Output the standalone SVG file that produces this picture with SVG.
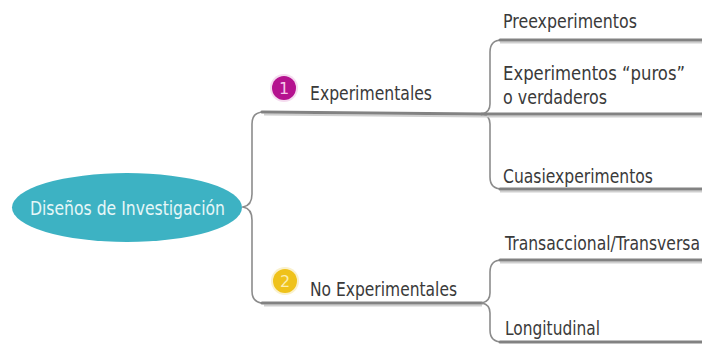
<svg xmlns="http://www.w3.org/2000/svg" width="702" height="345" viewBox="0 0 702 345">
<defs>
<style>
.t{font-family:"DejaVu Sans","Liberation Sans",sans-serif;font-size:20px;fill:#3a3a3a;}
.br{fill:none;stroke:#8c8c8c;stroke-width:1.6;stroke-linecap:round;stroke-linejoin:round;}
.hl{fill:none;stroke:#828282;stroke-width:3;stroke-linecap:round;}
.sh{fill:none;stroke:#cfcfcf;stroke-width:2;}
.num{font-family:"DejaVu Sans","Liberation Sans",sans-serif;font-size:16px;text-anchor:middle;}
</style>
</defs>
<rect width="702" height="345" fill="#ffffff"/>
<g id="connectors">
  <path class="br" d="M243,207 C249,206 252,202 252,194 L252,124 Q252,112 264,112"/>
  <path class="br" d="M243,207 C249,208 252,212 252,220 L252,291 Q252,303 264,303"/>
  <path class="sh" d="M264,114.5 L482,116.5"/>
  <path class="hl" d="M262,112 L482,114"/>
  <path class="sh" d="M264,305.5 L482,305.5"/>
  <path class="hl" d="M262,303 L482,303"/>
  <path class="br" d="M482,114 C487,113 490,110 490,104 L490,52 Q490,40 502,40"/>
  <path class="br" d="M482,114 C487,115 490,118 490,124 L490,177 Q490,189 502,189"/>
  <path class="sh" d="M500,42.5 L702,42.5"/>
  <path class="hl" d="M500,40 L702,40"/>
  <path class="sh" d="M482,116.5 L702,116.5"/>
  <path class="hl" d="M482,114 L702,114"/>
  <path class="sh" d="M500,191.5 L702,191.5"/>
  <path class="hl" d="M500,189 L702,189"/>
  <path class="br" d="M482,303 C487,302 490,299 490,293 L490,272 Q490,260 502,260"/>
  <path class="br" d="M482,303 C487,304 490,307 490,313 L490,330 Q490,342 502,342"/>
  <path class="sh" d="M500,262.5 L702,262.5"/>
  <path class="hl" d="M500,260 L702,260"/>
  <path class="hl" d="M500,342 L702,342"/>
</g>
<g id="root">
  <ellipse cx="127" cy="207.5" rx="115" ry="34.5" fill="#3db2c3"/>
  <text x="30" y="215" textLength="195" lengthAdjust="spacingAndGlyphs" style="font-family:'DejaVu Sans','Liberation Sans',sans-serif;font-size:20px;fill:#e6f7f8;">Diseños de Investigación</text>
</g>
<g id="n1">
  <circle cx="284" cy="88" r="14" fill="#f5dcef"/>
  <circle cx="284" cy="88" r="12" fill="#b5128f"/>
  <text class="num" x="284" y="94" fill="#f6c8ea">1</text>
  <text class="t" x="310" y="100" textLength="122" lengthAdjust="spacingAndGlyphs">Experimentales</text>
</g>
<g id="n2">
  <circle cx="285" cy="281" r="14" fill="#faf1cc"/>
  <circle cx="285" cy="281" r="12" fill="#efc21a"/>
  <text class="num" x="285" y="287" fill="#fbeeb0">2</text>
  <text class="t" x="310" y="296" textLength="147" lengthAdjust="spacingAndGlyphs">No Experimentales</text>
</g>
<g id="n11">
  <text class="t" x="503" y="28" textLength="134" lengthAdjust="spacingAndGlyphs">Preexperimentos</text>
</g>
<g id="n12">
  <text class="t" x="503" y="80" textLength="182" lengthAdjust="spacingAndGlyphs">Experimentos “puros”</text>
  <text class="t" x="503" y="104" textLength="104" lengthAdjust="spacingAndGlyphs">o verdaderos</text>
</g>
<g id="n13">
  <text class="t" x="503" y="183" textLength="150" lengthAdjust="spacingAndGlyphs">Cuasiexperimentos</text>
</g>
<g id="n21">
  <text class="t" x="505" y="250" textLength="195" lengthAdjust="spacingAndGlyphs">Transaccional/Transversa</text>
</g>
<g id="n22">
  <text class="t" x="505" y="335" textLength="95" lengthAdjust="spacingAndGlyphs">Longitudinal</text>
</g>
</svg>
